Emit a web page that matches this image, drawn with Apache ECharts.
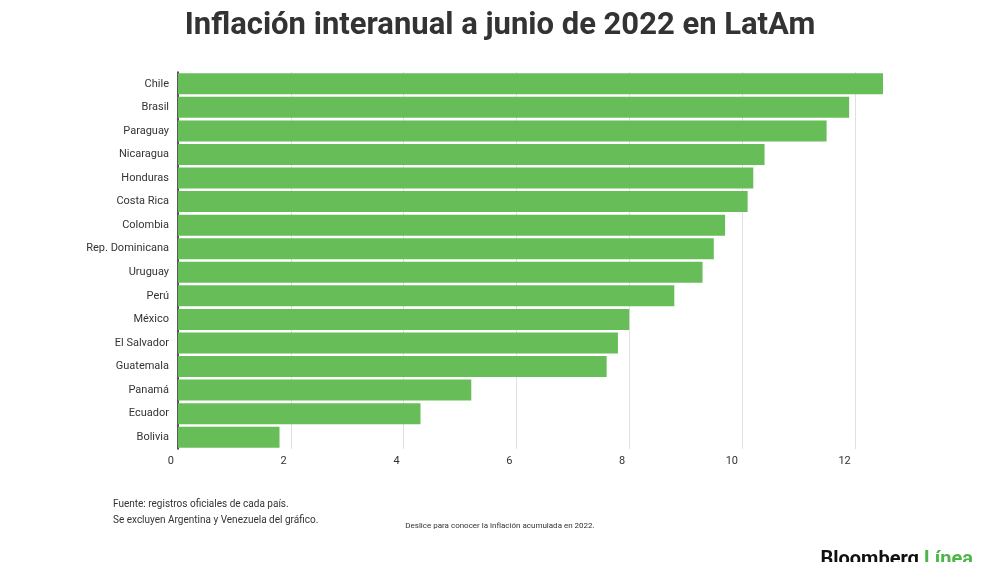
<!DOCTYPE html>
<html>
<head>
<meta charset="utf-8">
<script src="https://cdn.jsdelivr.net/npm/echarts@6/dist/echarts.min.js"></script>
<style>
  html, body { margin: 0; padding: 0; background: #fff; }
  #main { width: 1000px; height: 562px; }
</style>
</head>
<body>
<div id="main"></div>
<script>
// paises e inflacion interanual (%) a junio 2022
var paises = ['Chile', 'Brasil', 'Paraguay', 'Nicaragua', 'Honduras', 'Costa Rica', 'Colombia',
  'Rep. Dominicana', 'Uruguay', 'Perú', 'México', 'El Salvador', 'Guatemala', 'Panamá', 'Ecuador', 'Bolivia'];
var inflacion = [12.5, 11.9, 11.5, 10.4, 10.2, 10.1, 9.7, 9.5, 9.3, 8.8, 8.0, 7.8, 7.6, 5.2, 4.3, 1.8];

var myChart = echarts.init(document.getElementById('main'));

var fuente = 'Roboto';

myChart.setOption({
  animation: false,
  title: [
    {
      text: 'Inflación interanual a junio de 2022 en LatAm',
      left: 'center',
      top: 6,
      textStyle: { fontFamily: fuente, fontWeight: 'bold', fontSize: 31, color: '#333' }
    },
    {
      text: 'Fuente: registros oficiales de cada país.\nSe excluyen Argentina y Venezuela del gráfico.',
      left: 108,
      top: 491,
      textStyle: { fontFamily: fuente, fontWeight: 'normal', fontSize: 10, color: '#333', lineHeight: 16 }
    },
    {
      text: 'Deslice para conocer la inflación acumulada en 2022.',
      left: 'center',
      top: 517,
      textStyle: { fontFamily: fuente, fontWeight: 'normal', fontSize: 8, color: '#333' }
    },
    {
      text: '{b|Bloomberg}{g| Línea}',
      right: 22,
      top: 545,
      textStyle: {
        rich: {
          b: { fontFamily: fuente, fontWeight: 'bold', fontSize: 20, color: '#111' },
          g: { fontFamily: fuente, fontWeight: 'bold', fontSize: 20, color: '#4cb648' }
        }
      }
    }
  ],
  grid: { left: 178, right: 117, top: 72, bottom: 113 },
  xAxis: {
    type: 'value',
    min: 0,
    max: 12.5,
    interval: 2,
    axisLine: { show: false },
    axisTick: { show: false },
    axisLabel: {
      showMaxLabel: false,
      align: 'right',
      padding: [0, 4, 0, 0],
      margin: 7,
      fontFamily: fuente,
      fontSize: 11,
      color: '#333'
    },
    splitLine: {
      show: true,
      lineStyle: {
        color: ['#e0e0e0', '#e0e0e0', '#e0e0e0', '#e0e0e0', '#e0e0e0', '#e0e0e0', '#e0e0e0', 'rgba(0,0,0,0)'],
        width: 1
      }
    }
  },
  yAxis: {
    type: 'category',
    data: paises,
    inverse: true,
    axisLine: { show: true, lineStyle: { color: '#222', width: 1.5 } },
    axisTick: { show: false },
    axisLabel: { margin: 9, fontFamily: fuente, fontSize: 11, color: '#333' }
  },
  series: [
    {
      type: 'bar',
      data: inflacion,
      barCategoryGap: '11%',
      itemStyle: { color: '#67be59' }
    }
  ]
});
</script>
</body>
</html>
